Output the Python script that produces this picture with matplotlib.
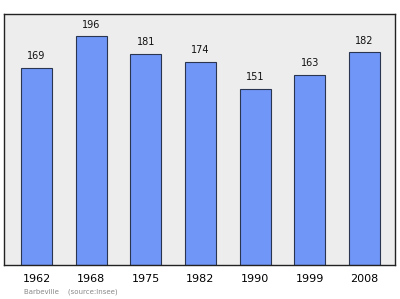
import matplotlib
matplotlib.use("Agg")
import matplotlib.pyplot as plt

years = ["1962", "1968", "1975", "1982", "1990", "1999", "2008"]
population = [169, 196, 181, 174, 151, 163, 182]
commune = "Barbeville"
source = "(source:Insee)"

fig = plt.figure(figsize=(4.0, 2.99), dpi=100)
W, H = 400, 299
ax = fig.add_axes([4 / W, 1 - 264.5 / H, (395 - 4) / W, (264.5 - 14) / H])
ax.set_facecolor("#ededed")
x = range(len(years))
ax.bar(x, population, width=0.57, color="#7096f8", edgecolor="#2a3550", linewidth=0.8, zorder=2)
for xi, v in zip(x, population):
    ax.text(xi, v + 5.5, str(v), ha="center", va="bottom", fontsize=7, color="#111111")
ax.set_xlim(-0.594, 6.558)
ax.set_ylim(0, 215)
ax.set_yticks([])
ax.set_xticks(list(x))
ax.set_xticklabels(years, fontsize=8)
ax.tick_params(axis="x", length=0, pad=6.5)
for s in ax.spines.values():
    s.set_color("#222222")
    s.set_linewidth(1.0)
fig.text(24 / W, 1 - 292 / H, commune + "    " + source, fontsize=5, color="#888888", va="center", ha="left")
fig.savefig("out.png", dpi=100)
